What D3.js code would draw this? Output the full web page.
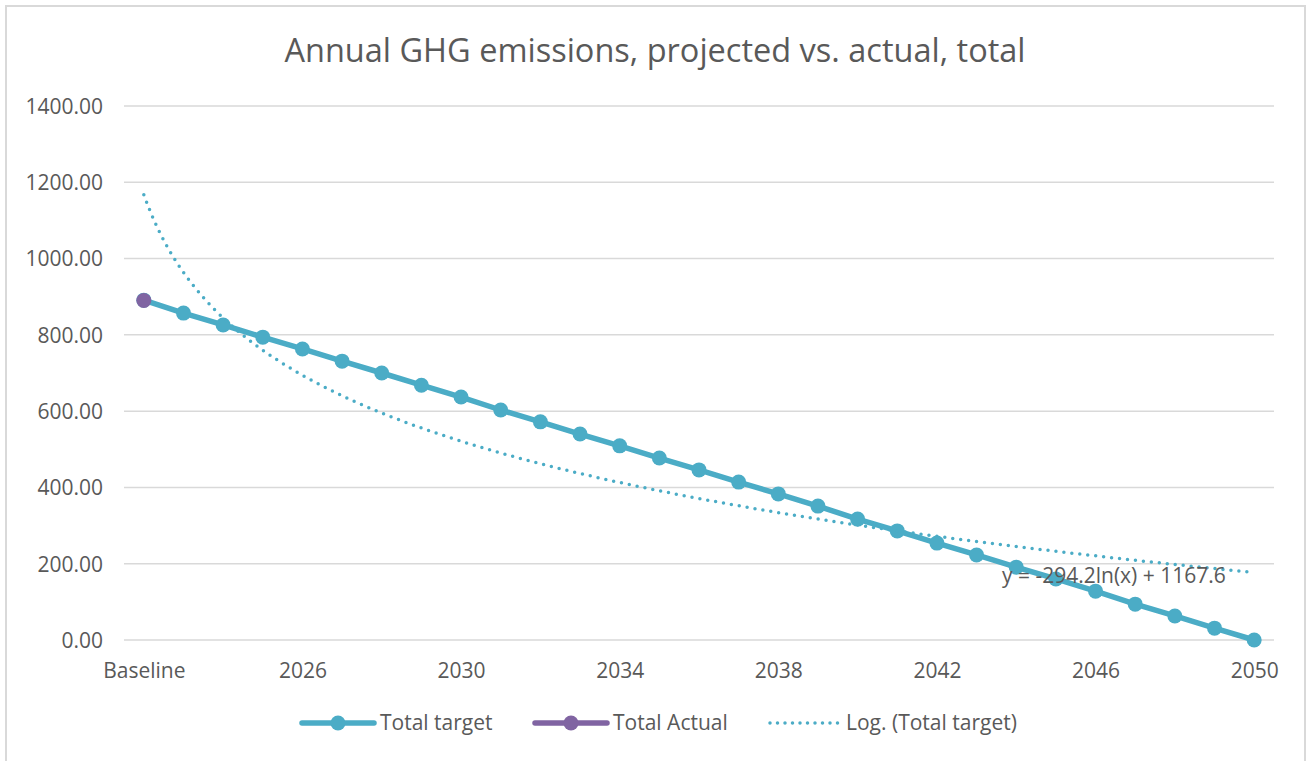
<!DOCTYPE html>
<html>
<head>
<meta charset="utf-8">
<script src="https://cdn.jsdelivr.net/npm/d3@7"></script>
<style>
  body { margin: 0; background: #fff; }
  text { font-family: "Open Sans", sans-serif; fill: #595959; }
</style>
</head>
<body>
<script>
// categories and values
const categories = ["Baseline", "2023", "2024", "2025", "2026", "2027", "2028", "2029", "2030",
  "2031", "2032", "2033", "2034", "2035", "2036", "2037", "2038", "2039", "2040",
  "2041", "2042", "2043", "2044", "2045", "2046", "2047", "2048", "2049", "2050"];
const totalTarget = [891, 857, 826, 794, 763, 731, 700, 668, 637, 603, 572, 540, 509, 477,
  446, 414, 383, 351, 317, 286, 254, 223, 191, 160, 128, 94, 63, 31, 0];
const totalActual = [890];
const yTicks = [0, 200, 400, 600, 800, 1000, 1200, 1400];
const xLabels = ["Baseline", "2026", "2030", "2034", "2038", "2042", "2046", "2050"];
// log trendline as given by its label
const trendSlope = -294.2;
const trendIntercept = 1167.6;

const W = 1309, H = 761;
const teal = "#4bacc6", purple = "#8064a2";

const svg = d3.select("body")
        .append("svg")
        .attr("width", W)
        .attr("height", H);

svg.append("rect")
  .attr("x", 6).attr("y", 6)
  .attr("width", 1299).attr("height", 770)
  .attr("fill", "#fff")
  .attr("stroke", "#d9d9d9")
  .attr("stroke-width", 2);

const x = d3.scalePoint()
  .domain(categories)
  .range([124, 1274])
  .padding(0.5);

const y = d3.scaleLinear()
  .domain([0, 1400])
  .range([640, 106]);

// gridlines
svg.append("g")
  .selectAll("line")
  .data(yTicks)
  .enter()
  .append("line")
  .attr("x1", 124).attr("x2", 1274)
  .attr("y1", d => y(d)).attr("y2", d => y(d))
  .attr("stroke", "#d9d9d9")
  .attr("stroke-width", 1.5);

// y axis labels
const yAxis = svg.append("g")
  .attr("transform", "translate(103,0)")
  .call(d3.axisLeft(y).tickValues(yTicks).tickFormat(d3.format(".2f")).tickSize(0).tickPadding(0));
yAxis.select(".domain").remove();
yAxis.selectAll("text")
  .attr("font-size", 21)
  .attr("dy", "0.35em")
  .style("font-family", "'Open Sans', sans-serif")
  .style("fill", "#595959");

// x axis labels
const xAxis = svg.append("g")
  .attr("transform", "translate(0,640)")
  .call(d3.axisBottom(x).tickValues(xLabels).tickSize(0).tickPadding(0));
xAxis.select(".domain").remove();
xAxis.selectAll("text")
  .attr("font-size", 21)
  .attr("y", 38)
  .attr("dy", 0)
  .style("font-family", "'Open Sans', sans-serif")
  .style("fill", "#595959");

// target line
const line = d3.line()
  .x((d, i) => x(categories[i]))
  .y(d => y(d));

svg.append("path")
  .datum(totalTarget)
  .attr("d", line)
  .attr("fill", "none")
  .attr("stroke", teal)
  .attr("stroke-width", 5.5)
  .attr("stroke-linejoin", "round");

svg.append("g")
  .selectAll("circle")
  .data(totalTarget)
  .enter()
  .append("circle")
  .attr("cx", (d, i) => x(categories[i]))
  .attr("cy", d => y(d))
  .attr("r", 7.5)
  .attr("fill", teal);

// log trendline
const trendX = d3.range(1, categories.length + 0.001, 0.1);
const xIdx = d3.scaleLinear().domain([1, categories.length]).range([x(categories[0]), x(categories[categories.length - 1])]);
svg.append("path")
  .datum(trendX)
  .attr("d", d3.line().x(d => xIdx(d)).y(d => y(trendSlope * Math.log(d) + trendIntercept)))
  .attr("fill", "none")
  .attr("stroke", teal)
  .attr("stroke-width", 3.5)
  .attr("stroke-linecap", "round")
  .attr("stroke-dasharray", "0,8");

// actual
svg.append("g")
  .selectAll("circle")
  .data(totalActual)
  .enter()
  .append("circle")
  .attr("cx", (d, i) => x(categories[i]))
  .attr("cy", d => y(d))
  .attr("r", 7.5)
  .attr("fill", purple);

// trendline equation
svg.append("text")
  .attr("x", 1002)
  .attr("y", 583)
  .attr("font-size", 21)
  .text("y = " + trendSlope + "ln(x) + " + trendIntercept);

// title
svg.append("text")
  .attr("x", 655)
  .attr("y", 62)
  .attr("text-anchor", "middle")
  .attr("font-size", 32.5)
  .text("Annual GHG emissions, projected vs. actual, total");

// legend
const legendData = [
  { name: "Total target", color: teal, type: "line", x0: 302 },
  { name: "Total Actual", color: purple, type: "line", x0: 535 },
  { name: "Log. (Total target)", color: teal, type: "dot", x0: 770 }
];
const lg = svg.append("g").selectAll("g")
  .data(legendData)
  .enter()
  .append("g")
  .attr("transform", d => "translate(" + d.x0 + ",723)");

lg.append("line")
  .attr("x1", 0).attr("x2", d => d.type == "line" ? 72 : 68)
  .attr("stroke", d => d.color)
  .attr("stroke-width", d => d.type == "line" ? 5.5 : 3.5)
  .attr("stroke-linecap", "round")
  .attr("stroke-dasharray", d => d.type == "line" ? null : "0,7.5");

lg.filter(d => d.type == "line")
  .append("circle")
  .attr("cx", 36)
  .attr("r", 7.5)
  .attr("fill", d => d.color);

lg.append("text")
  .attr("x", d => d.type == "line" ? 78 : 76)
  .attr("dy", "0.35em")
  .attr("font-size", 21)
  .text(d => d.name);
</script>
</body>
</html>
